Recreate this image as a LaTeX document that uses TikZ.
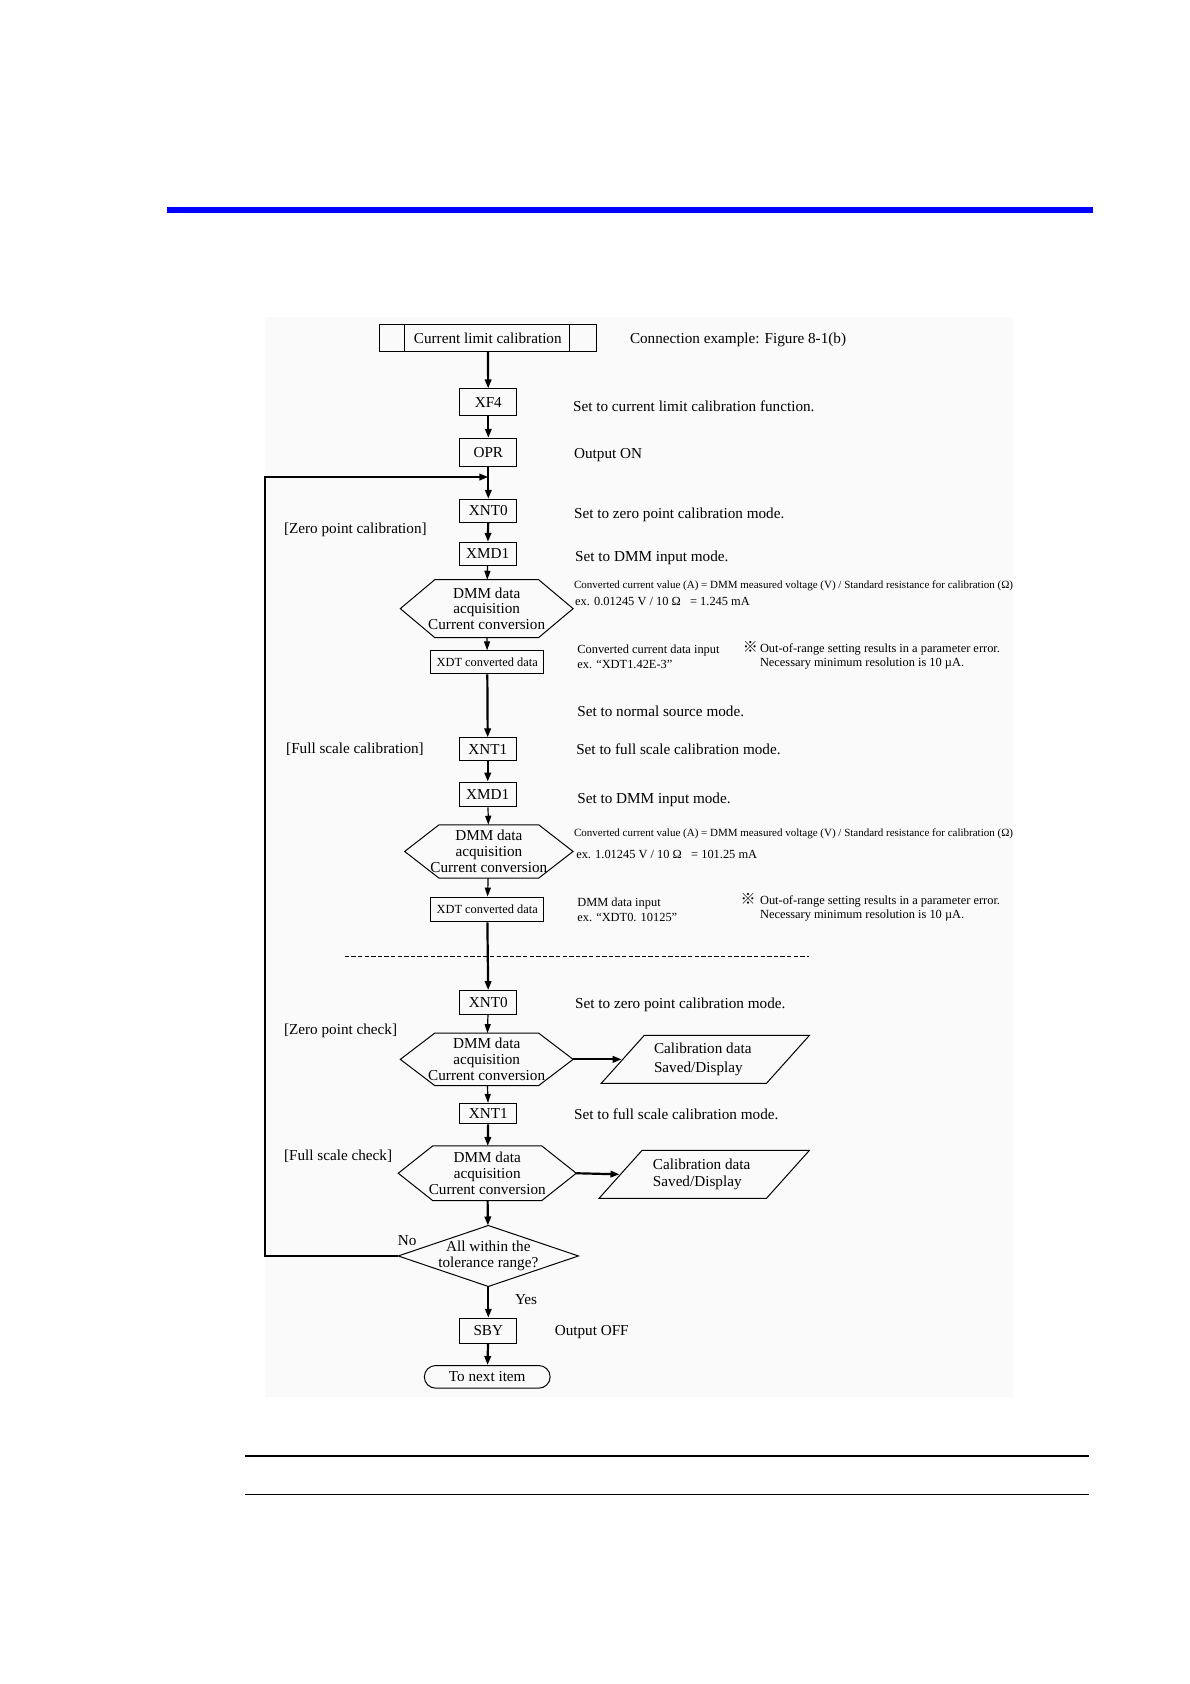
\documentclass[tikz,border=0pt]{standalone}
\usepackage{fontspec}
\setmainfont{Liberation Serif}
\newfontfamily\cjkfont{Noto Sans CJK JP}
\usetikzlibrary{arrows.meta,shapes.misc}

\newcommand{\mainsz}{\fontsize{7.6}{7.9}\selectfont}
\newcommand{\notesz}{\fontsize{6.2}{7.4}\selectfont}
\newcommand{\formsz}{\fontsize{5.5}{6.4}\selectfont}
\newcommand{\xdtsz}{\fontsize{6.2}{7}\selectfont}
\newcommand{\refmark}{{\cjkfont\fontsize{7.5}{7.5}\selectfont ※}}

\tikzset{
  box/.style={draw, line width=0.5pt, minimum width=28.5pt, minimum height=11.5pt, inner sep=0pt, font=\mainsz},
  hexbox/.style={minimum width=86pt, minimum height=28pt, inner sep=0pt, align=center, font=\mainsz},
  iobox/.style={minimum width=103.7pt, minimum height=23.6pt, inner sep=0pt, align=left, font=\mainsz},
  endbox/.style={draw, line width=0.5pt, rounded rectangle, minimum width=62.9pt, minimum height=11.3pt, inner sep=0pt, font=\mainsz},
  txt/.style={anchor=west, inner sep=0pt, font=\mainsz},
  note/.style={anchor=west, inner sep=0pt, align=left, font=\notesz},
  flow/.style={line width=0.6pt, -{Triangle[length=4.5pt,width=3pt]}},
  flowb/.style={line width=1.1pt, -{Triangle[length=4.5pt,width=3.2pt]}},
}
\newcommand{\hexline}[1]{\draw[line width=0.5pt] (#1.west) -- ([xshift=17.2pt]#1.north west) -- ([xshift=-17.2pt]#1.north east) -- (#1.east) -- ([xshift=-17.2pt]#1.south east) -- ([xshift=17.2pt]#1.south west) -- cycle;}
\newcommand{\ioline}[1]{\draw[line width=0.5pt] ([xshift=21.5pt]#1.north west) -- (#1.north east) -- ([xshift=-21.5pt]#1.south east) -- (#1.south west) -- cycle;}

\begin{document}
\begin{tikzpicture}[x=0.53725pt,y=-0.53725pt]
\useasboundingbox (0,0) rectangle (1107.5,1567.4);
% page rules
\fill[blue] (155,193) rectangle (1017,198.5);
\draw[line width=0.8pt] (228,1355) -- (1014,1355);
\draw[line width=0.8pt] (228,1391) -- (1014,1391);
\fill[black!2] (247,295) rectangle (943,1300);

% calibration part
\node[box, minimum width=108.5pt, minimum height=13.4pt] (start) at (454,314.5) {Current limit calibration};
\draw[line width=0.5pt] ([xshift=12.9pt]start.north west) -- ([xshift=12.9pt]start.south west);
\draw[line width=0.5pt] ([xshift=-13.4pt]start.north east) -- ([xshift=-13.4pt]start.south east);
\node[txt] (conn) at (586,316) {Connection example: Figure 8-1(b)};

\node[box, minimum height=13.4pt] (xf4) at (454.5,374.5) {XF4};
\node[txt] at (533,378) {Set to current limit calibration function.};
\node[box, minimum height=14pt] (opr) at (454.5,421) {OPR};
\node[txt] at (534,424) {Output ON};

\node[box] (xnt0a) at (454.5,475.5) {XNT0};
\node[txt] at (534,479) {Set to zero point calibration mode.};
\node[txt] at (264,493) {[Zero point calibration]};
\node[box] (xmd1a) at (454,515.5) {XMD1};
\node[txt] at (535,519) {Set to DMM input mode.};

\node[hexbox, minimum height=28.5pt] (hexa) at (453,566.5) {DMM data\\acquisition\\Current conversion};
\hexline{hexa}
\node[note, font=\formsz] at (534,545.5) {Converted current value (A) = DMM measured voltage (V) / Standard resistance for calibration (Ω)};
\node[note] at (535,559.5) {ex. 0.01245 V / 10 Ω\ \ \ = 1.245 mA};

\node[box, minimum width=56.4pt, font=\xdtsz] (xdta) at (453.5,616.5) {XDT converted data};
\node[note] at (537,611) {Converted current data input\\ex. “XDT1.42E-3”};
\node[note] at (691,610) {\makebox[8.6pt][l]{\refmark}Out-of-range setting results in a parameter error.\\\hspace*{8.6pt}Necessary minimum resolution is 10 µA.};

\node[txt] at (537,662) {Set to normal source mode.};
\node[txt] at (266,697) {[Full scale calibration]};
\node[box] (xnt1a) at (454,697.5) {XNT1};
\node[txt] at (536,697) {Set to full scale calibration mode.};
\node[box, minimum height=12.4pt] (xmd1b) at (454,739.5) {XMD1};
\node[txt] at (537,744) {Set to DMM input mode.};

\node[hexbox, minimum width=83.8pt, minimum height=26.3pt] (hexb) at (455,792.5) {DMM data\\acquisition\\Current conversion};
\hexline{hexb}
\node[note, font=\formsz] at (534,776.5) {Converted current value (A) = DMM measured voltage (V) / Standard resistance for calibration (Ω)};
\node[note] at (536,795) {ex. 1.01245 V / 10 Ω\ \ \ = 101.25 mA};

\node[box, minimum width=56.4pt, minimum height=12.4pt, font=\xdtsz] (xdtb) at (453.5,846.5) {XDT converted data};
\node[note] at (537,846.5) {DMM data input\\ex. “XDT0. 10125”};
\node[note] at (689,844.5) {\makebox[9.7pt][l]{\refmark}Out-of-range setting results in a parameter error.\\\hspace*{9.7pt}Necessary minimum resolution is 10 µA.};

\draw[line width=0.7pt, dash pattern=on 2.2pt off 1.1pt] (321,890) -- (753,890);

% check part
\node[box, minimum height=11.8pt] (xnt0b) at (454.5,933) {XNT0};
\node[txt] at (535,935) {Set to zero point calibration mode.};
\node[txt] at (264,959) {[Zero point check]};
\node[hexbox, minimum height=25.8pt] (hexc) at (453,986) {DMM data\\acquisition\\Current conversion};
\hexline{hexc}
\node[iobox] (parc) at (656.5,986) {Calibration data\\[2pt]Saved/Display\hspace*{7pt}};
\ioline{parc}

\node[box, minimum height=10.2pt] (xnt1b) at (454.5,1036.5) {XNT1};
\node[txt] at (534,1037) {Set to full scale calibration mode.};
\node[txt] at (264,1076) {[Full scale check]};
\node[hexbox, minimum width=88.6pt, minimum height=26.9pt] (hexd) at (453.5,1092) {DMM data\\acquisition\\Current conversion};
\hexline{hexd}
\node[iobox, minimum width=104.8pt] (pard) at (655.5,1093) {Calibration data\\[1pt]Saved/Display\hspace*{7pt}};
\ioline{pard}

\node[minimum width=89.7pt, minimum height=30.1pt, inner sep=0pt, align=center, font=\mainsz] (dia) at (454.5,1169) {All within the\\tolerance range?};
\draw[line width=0.5pt] (dia.north) -- (dia.east) -- (dia.south) -- (dia.west) -- cycle;
\node[txt] at (370,1155) {No};
\node[txt] at (479,1210) {Yes};

\node[box, minimum height=12.4pt] (sby) at (454.5,1238.5) {SBY};
\node[txt] at (516,1240) {Output OFF};
\node[endbox] (next) at (453.5,1281.5) {To next item};

% connectors
\coordinate (join) at (454.5,444);
\draw[flowb] (start) -- (xf4);
\draw[flowb] (xf4) -- (opr);
\draw[flowb] (opr) -- (xnt0a);
\draw[flowb] (dia.west) -- ++(-124,0) |- (join);
\draw[flowb] (xnt0a) -- (xmd1a);
\draw[flow] (xmd1a) -- (hexa);
\draw[flow] (hexa) -- (xdta);
\draw[flowb] (xdta) -- (xnt1a);
\draw[flowb] (xnt1a) -- (xmd1b);
\draw[flow] (xmd1b) -- (hexb);
\draw[flow] (hexb) -- (xdtb);
\draw[flowb] (xdtb) -- (xnt0b);
\draw[flow] (xnt0b) -- (hexc);
\draw[flowb] (hexc.east) -- ([xshift=10.2pt]parc.west);
\draw[flow] (hexc) -- (xnt1b);
\draw[flowb] (xnt1b) -- (hexd);
\draw[flowb] (hexd.east) -- ([xshift=10.2pt]pard.west);
\draw[flowb] (hexd) -- (dia);
\draw[flowb] (dia) -- (sby);
\draw[flowb] (sby) -- (next);
\end{tikzpicture}
\end{document}
